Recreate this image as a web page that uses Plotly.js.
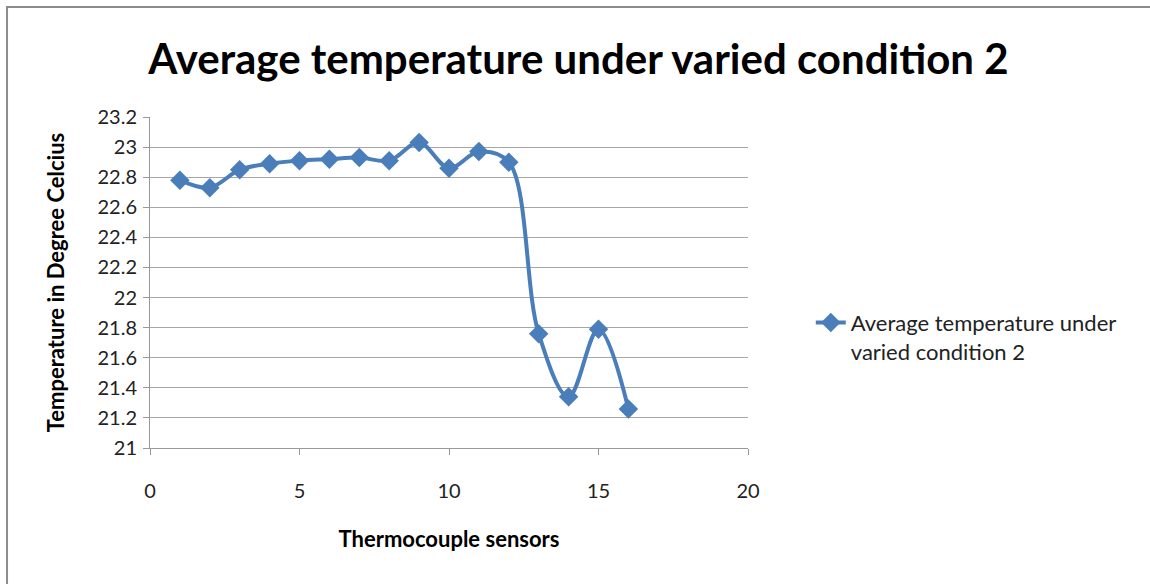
<!DOCTYPE html>
<html>
<head>
<meta charset="utf-8">
<script src="https://cdn.plot.ly/plotly-3.0.1.min.js"></script>
<style>
html,body{margin:0;padding:0;background:#fff;}
#chart{width:1150px;height:584px;}
</style>
</head>
<body>
<div id="chart"></div>
<script>
// Data
const sensors = [1, 2, 3, 4, 5, 6, 7, 8, 9, 10, 11, 12, 13, 14, 15, 16];
const avgTemp = [22.78, 22.73, 22.85, 22.89, 22.91, 22.92, 22.93, 22.91, 23.03, 22.86, 22.97, 22.90, 21.76, 21.34, 21.79, 21.26];
const seriesName = 'Average temperature under<br>varied condition 2';
const chartTitle = 'Average temperature under varied condition 2';
const xTitle = 'Thermocouple sensors';
const yTitle = 'Temperature in Degree Celcius';
const yTicks = [21, 21.2, 21.4, 21.6, 21.8, 22, 22.2, 22.4, 22.6, 22.8, 23, 23.2];
const xTicks = [0, 5, 10, 15, 20];

const blue = '#4a7ebb';
const font = 'Lato, "Open Sans", sans-serif';

const trace = {
  x: sensors,
  y: avgTemp,
  name: seriesName,
  type: 'scatter',
  mode: 'lines+markers',
  line: {color: blue, width: 4, shape: 'spline', smoothing: 1},
  marker: {symbol: 'diamond', size: 15, color: blue},
  showlegend: true
};

const layout = {
  width: 1150,
  height: 584,
  margin: {l: 150, r: 402, t: 117, b: 136},
  paper_bgcolor: '#ffffff',
  plot_bgcolor: '#ffffff',
  font: {family: font, color: '#222', size: 20},
  title: {
    text: '<b>' + chartTitle + '</b>',
    font: {family: font, size: 42, color: '#000'},
    xref: 'container', x: 0.503, xanchor: 'center',
    yref: 'container', y: 0.899, yanchor: 'middle'
  },
  xaxis: {
    range: [0, 20],
    tickvals: xTicks,
    ticktext: xTicks.map(String),
    showgrid: false,
    zeroline: false,
    showline: true, linecolor: '#999', linewidth: 1,
    ticks: 'outside', ticklen: 6, tickcolor: '#999',
    ticklabelstandoff: 19,
    tickfont: {family: font, size: 20, color: '#222'},
    title: {text: '<b>' + xTitle + '</b>', font: {family: font, size: 22, color: '#000'}, standoff: 30}
  },
  yaxis: {
    range: [21, 23.2],
    tickvals: yTicks,
    ticktext: yTicks.map(v => String(v)),
    showgrid: true, gridcolor: '#a6a6a6', gridwidth: 1,
    zeroline: false,
    showline: true, linecolor: '#999', linewidth: 1,
    ticks: 'outside', ticklen: 6, tickcolor: '#999',
    ticklabelstandoff: 2,
    tickfont: {family: font, size: 20, color: '#222'},
    title: {text: '<b>' + yTitle + '</b>', font: {family: font, size: 22, color: '#000'}, standoff: 26}
  },
  legend: {
    x: 1.105, xanchor: 'left',
    y: 0.335, yanchor: 'middle',
    valign: 'top',
    font: {family: font, size: 22, color: '#222'},
    bgcolor: 'rgba(0,0,0,0)'
  },
  shapes: [{
    type: 'rect', xref: 'paper', yref: 'paper',
    x0: -0.2391, x1: 1.68, y0: -0.45, y1: 1.3323,
    line: {color: '#8c8c8c', width: 2}, fillcolor: 'rgba(0,0,0,0)', layer: 'below'
  }]
};

Plotly.newPlot('chart', [trace], layout, {displayModeBar: false, staticPlot: true});
</script>
</body>
</html>
